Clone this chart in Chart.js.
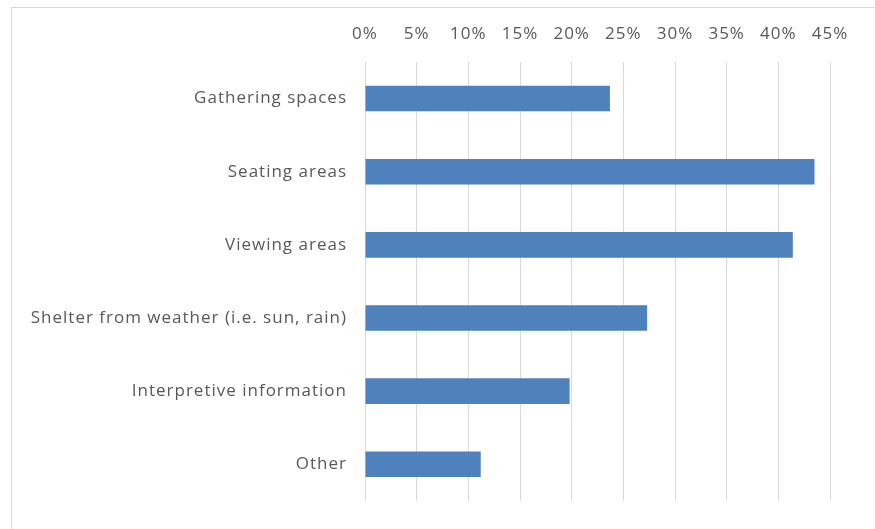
<!DOCTYPE html>
<html>
<head>
<meta charset="utf-8">
<script src="https://cdn.jsdelivr.net/npm/chart.js@4/dist/chart.umd.min.js"></script>
<style>
  html, body { margin: 0; padding: 0; background: #fff; overflow: hidden; }
  #wrap { position: relative; width: 875px; height: 529px; }
  #frame { position: absolute; left: 11px; top: 7px; width: 900px; height: 560px; border: 1px solid #d9d9d9; box-sizing: border-box; }
  canvas { position: absolute; left: 0; top: 0; }
</style>
</head>
<body>
<div id="wrap">
  <div id="frame"></div>
  <canvas id="c" width="875" height="529"></canvas>
</div>
<script>
const categories = [
  "Gathering spaces",
  "Seating areas",
  "Viewing areas",
  "Shelter from weather (i.e. sun, rain)",
  "Interpretive information",
  "Other"
];
const values = [23.7, 43.5, 41.4, 27.3, 19.8, 11.2];
const tickLabels = ["0%", "5%", "10%", "15%", "20%", "25%", "30%", "35%", "40%", "45%"];

const FONT = "'Open Sans', sans-serif";
const TEXT = "#595959";

const spacingPlugin = {
  id: "spacing",
  beforeDraw(chart) { chart.ctx.letterSpacing = "1px"; }
};

new Chart(document.getElementById("c"), {
  type: "bar",
  data: {
    labels: categories,
    datasets: [{
      data: values,
      backgroundColor: "#4f81bd",
      borderWidth: 0,
      barPercentage: 0.35,
      categoryPercentage: 1.0
    }]
  },
  plugins: [spacingPlugin],
  options: {
    indexAxis: "y",
    responsive: false,
    animation: false,
    devicePixelRatio: 1,
    layout: { padding: { left: 12, right: 45, top: 8, bottom: 23 } },
    plugins: { legend: { display: false }, tooltip: { enabled: false } },
    scales: {
      x: {
        position: "top",
        min: 0,
        max: 45,
        ticks: {
          stepSize: 5,
          padding: 18,
          color: TEXT,
          font: { family: FONT, size: 17 },
          callback: function (v, i) { return tickLabels[i]; }
        },
        grid: { color: "#d9d9d9", lineWidth: 1, drawTicks: false },
        border: { display: false },
        afterFit: function (s) { s.height = 54; }
      },
      y: {
        ticks: {
          padding: 18,
          color: TEXT,
          font: { family: FONT, size: 17 }
        },
        grid: { display: false, drawTicks: false },
        border: { display: false },
        afterFit: function (s) { s.width = 353; }
      }
    }
  }
});
</script>
</body>
</html>
